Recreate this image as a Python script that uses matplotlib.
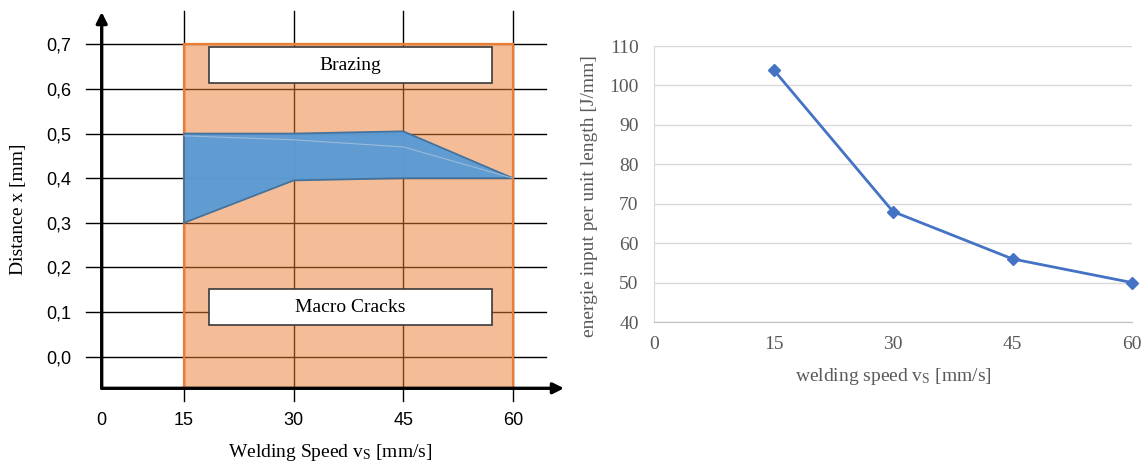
import matplotlib
matplotlib.use("Agg")
import matplotlib.pyplot as plt
from matplotlib.patches import Rectangle, Polygon

plt.rcParams["font.family"] = ["Liberation Serif", "DejaVu Serif"]
plt.rcParams["mathtext.default"] = "regular"

# ------------------------------------------------------------
# Data
# ------------------------------------------------------------
# left: process window (distance x over welding speed)
speed = [15, 30, 45, 60]
window_top = [0.50, 0.50, 0.505, 0.40]
window_bottom = [0.30, 0.395, 0.40, 0.40]
window_inner = [0.495, 0.486, 0.47, 0.40]
dist_ticks = [0.0, 0.1, 0.2, 0.3, 0.4, 0.5, 0.6, 0.7]
dist_labels = ["0,0", "0,1", "0,2", "0,3", "0,4", "0,5", "0,6", "0,7"]
speed_labels = ["0", "15", "30", "45", "60"]
region_speed = (15, 60)
region_dist_top = 0.7
brazing_box = (18.4, 57.1, 0.613, 0.693)
cracks_box = (18.4, 57.1, 0.070, 0.151)

# right: energy input per unit length
energy_speed = [15, 30, 45, 60]
energy = [104, 68, 56, 50]
energy_xticks = [0, 15, 30, 45, 60]
energy_yticks = [40, 50, 60, 70, 80, 90, 100, 110]

FIG_W, FIG_H = 1146, 465
fig = plt.figure(figsize=(FIG_W / 100, FIG_H / 100), dpi=100)

# ============================================================
# Left diagram
# ============================================================
XMIN, XMAX = 3.73, 67.0
YMIN, YMAX = -0.0708, 0.7724
ax = fig.add_axes([101.7 / FIG_W, 1 - 388.3 / FIG_H,
                   (564 - 101.7) / FIG_W, (388.3 - 12) / FIG_H])
ax.set_xlim(XMIN, XMAX)
ax.set_ylim(YMIN, YMAX)
for s in ax.spines.values():
    s.set_visible(False)

# grid lines (under the orange region)
for y in dist_ticks:
    ax.plot([1.58, 64.56], [y, y], color="black", lw=1.0, zorder=1, clip_on=False)
for x in speed:
    ax.plot([x, x], [-0.0986, 0.7746], color="black", lw=1.0, zorder=1, clip_on=False)

# orange region
ax.add_patch(Rectangle((region_speed[0], YMIN), region_speed[1] - region_speed[0],
                       region_dist_top - YMIN, facecolor="#ED7D31", alpha=0.5,
                       edgecolor="none", zorder=2))
ax.add_patch(Rectangle((region_speed[0], YMIN), region_speed[1] - region_speed[0],
                       region_dist_top - YMIN, facecolor="none",
                       edgecolor="#ED7D31", lw=1.6, zorder=3))

# blue process window
poly = list(zip(speed, window_top)) + list(zip(speed[::-1], window_bottom[::-1]))
ax.add_patch(Polygon(poly, closed=True, facecolor="#5B9BD5", alpha=0.97,
                     edgecolor="#41719C", lw=1.3, zorder=4))
ax.plot(speed, window_inner, color="#A9C1D9", lw=0.8, alpha=0.8, zorder=5)

# text boxes
for (x0, x1, y0, y1), txt in [(brazing_box, "Brazing"), (cracks_box, "Macro Cracks")]:
    ax.add_patch(Rectangle((x0, y0), x1 - x0, y1 - y0, facecolor="white",
                           edgecolor="#3a3a3a", lw=1.2, zorder=6))
    ax.text((x0 + x1) / 2, (y0 + y1) / 2, txt, ha="center", va="center",
            fontsize=14, zorder=7)

# axis arrows
arrow = dict(arrowstyle="-|>", lw=2.4, color="black", mutation_scale=16,
             shrinkA=0, shrinkB=0)
ax.annotate("", xy=(0, 1), xytext=(0, 0), xycoords="axes fraction",
            textcoords="axes fraction", arrowprops=arrow, zorder=8)
ax.annotate("", xy=(1, 0), xytext=(0, 0), xycoords="axes fraction",
            textcoords="axes fraction", arrowprops=arrow, zorder=8)

ax.set_yticks(dist_ticks)
ax.set_yticklabels(dist_labels, family="Liberation Sans", fontsize=13)
ax.set_xticks([XMIN] + speed)
ax.set_xticklabels(speed_labels, family="Liberation Sans", fontsize=13)
ax.tick_params(axis="y", length=0, pad=22)
ax.tick_params(axis="x", length=0, pad=17)

fig.text(330 / FIG_W, 1 - 452 / FIG_H, "Welding Speed v$_{S}$ [mm/s]",
         ha="center", va="center", fontsize=14)
fig.text(19 / FIG_W, 1 - 209 / FIG_H, "Distance x [mm]", rotation=90,
         ha="center", va="center", fontsize=14)

# ============================================================
# Right chart
# ============================================================
GRAY = "#595959"
ax2 = fig.add_axes([654 / FIG_W, 1 - 322 / FIG_H,
                    (1132 - 654) / FIG_W, (322 - 46) / FIG_H])
ax2.plot(energy_speed, energy, color="#4472C4", lw=2, marker="D",
         markersize=6.5, clip_on=False, zorder=3)
ax2.set_xlim(0, 60)
ax2.set_ylim(40, 110)
ax2.set_xticks(energy_xticks)
ax2.set_yticks(energy_yticks)
ax2.grid(axis="y", color="#D9D9D9", lw=1)
ax2.set_axisbelow(True)
for side in ["top", "right"]:
    ax2.spines[side].set_visible(False)
ax2.spines["left"].set_color("#D9D9D9")
ax2.spines["bottom"].set_color("#BFBFBF")
ax2.tick_params(length=0, labelsize=14, labelcolor=GRAY)
ax2.tick_params(axis="y", pad=11)
ax2.tick_params(axis="x", pad=10)

fig.text(893 / FIG_W, 1 - 376 / FIG_H, "welding speed v$_{S}$ [mm/s]",
         ha="center", va="center", fontsize=14, color=GRAY)
fig.text(589 / FIG_W, 1 - 196 / FIG_H, "energie input per unit length [J/mm]",
         rotation=90, ha="center", va="center", fontsize=14, color=GRAY)

fig.savefig("out.png", dpi=100)
